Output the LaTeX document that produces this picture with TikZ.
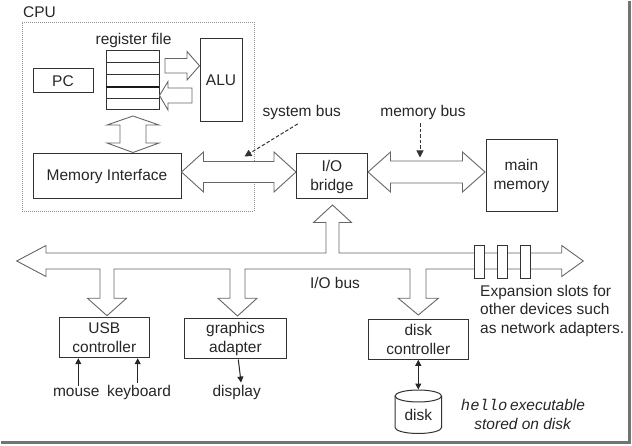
\documentclass[tikz,border=0pt]{standalone}
\usepackage{fontspec}
\setmainfont{Liberation Sans}
\newfontfamily\monofam{Liberation Mono}
\usetikzlibrary{arrows.meta,calc}
\newcommand\hfat[6]{% left tip x, right tip x, y, head length, shaft half, head half
  \draw[fat] (#1,#3) -- (#1+#4,#3-#6) -- (#1+#4,#3-#5) -- (#2-#4,#3-#5) -- (#2-#4,#3-#6) -- (#2,#3)
    -- (#2-#4,#3+#6) -- (#2-#4,#3+#5) -- (#1+#4,#3+#5) -- (#1+#4,#3+#6) -- cycle;}
\begin{document}
\begin{tikzpicture}[x=1pt,y=-1pt,
  every node/.style={font=\fontsize{15.5}{19}\selectfont, text=black!85, inner sep=0pt},
  box/.style={draw=black!80, line width=1pt},
  fat/.style={draw=black!60, line width=0.9pt, fill=white, line join=miter},
  thinarrow/.style={draw=black!85, line width=1pt, -{Triangle[length=6pt,width=6pt]}},
  thindouble/.style={draw=black!85, line width=1pt, {Triangle[length=6pt,width=6pt]}-{Triangle[length=6pt,width=6pt]}},
  dasharrow/.style={draw=black!80, line width=1pt, dash pattern=on 3.5pt off 2pt, -{Triangle[length=7pt,width=7pt]}},
  cpuframe/.style={draw=black!45, line width=0.8pt, dash pattern=on 1pt off 1pt}
]
\useasboundingbox (0,0) rectangle (632,446);

% frame shadow
\draw[black!55, line width=3pt] (629.8,1) -- (629.8,442.8) -- (1,442.8);

% CPU
\node[cpuframe, minimum width=232pt, minimum height=189pt] (cpu) at (138,116.5) {};
\node (cpulabel) at (39.5,12.5) {CPU};

\node[box, minimum width=60pt, minimum height=24pt] (pc) at (63,81) {PC};
\node[box, minimum width=53pt, minimum height=59.3pt] (regfile) at (132.5,80.35) {};
\foreach \yy in {62.7,75,98.3} \draw[box] (106,\yy) -- (159,\yy);
\draw[draw=black!90, line width=2pt] (106,86.7) -- (159,86.7);
\node (reglabel) at (133.5,40) {register file};
\node[box, minimum width=42pt, minimum height=83pt] (alu) at (221,80.5) {ALU};
\node[box, minimum width=148pt, minimum height=45pt] (memint) at (107,176.5) {Memory Interface};

% register file <-> ALU arrows
\draw[fat] (165,58.5) -- (187,58.5) -- (187,51.5) -- (199.5,65.8) -- (187,80) -- (187,73) -- (165,73) -- cycle;
\draw[fat] (192,88) -- (168,88) -- (168,81.5) -- (159.5,95.5) -- (168,110) -- (168,103) -- (192,103) -- cycle;
% register file <-> memory interface
\draw[fat] (133,116) -- (159,125) -- (146,125) -- (146,143) -- (159,143) -- (133,152.5)
  -- (107,143) -- (120,143) -- (120,125) -- (107,125) -- cycle;

% I/O bridge and main memory
\node[box, minimum width=71.7pt, minimum height=45pt, align=center] (bridge) at (331.85,176.5) {I/O\\bridge};
\node[box, minimum width=71pt, minimum height=71.7pt, align=center] (mainmem) at (521.5,175.85) {main\\memory};

% system bus & memory bus
\hfat{181.5}{296}{172}{22}{10.5}{20}
\hfat{368}{485}{172}{22.5}{11}{20}

\node (sysbus) at (301.7,112.5) {system bus};
\node (membus) at (423,112.5) {memory bus};
\coordinate (sbtip) at (244.5,156.5);
\coordinate (mbtip) at (420,157.5);
\draw[dasharrow] ($(sysbus.south)+(-4,4)$) -- (sbtip);
\draw[dasharrow] ($(membus.south)+(-3,3.5)$) -- (mbtip);

% I/O bus
\draw[fat] (16.7,261) -- (46,245.5) -- (46,253) -- (326,253) -- (326,222.5) -- (313.5,222.5)
  -- (332.5,205) -- (351.5,222.5) -- (339,222.5) -- (339,253) -- (561.7,253) -- (561.7,245.5)
  -- (583.3,261) -- (561.7,276.5) -- (561.7,269) -- (426,269) -- (426,298.3) -- (438.3,298.3)
  -- (418.3,315) -- (398.3,298.3) -- (410,298.3) -- (410,269) -- (245,269) -- (245,298.3)
  -- (257,298.3) -- (237.5,316) -- (218,298.3) -- (230,298.3) -- (230,269) -- (114,269)
  -- (114,298.3) -- (126.5,298.3) -- (107,315.7) -- (87.5,298.3) -- (100,298.3) -- (100,269)
  -- (46,269) -- (46,276.5) -- cycle;
\foreach \xx/\nm in {479.3/slotA,502/slotB,525.3/slotC}
  \node[box, fill=white, minimum width=10pt, minimum height=33pt] (\nm) at (\xx,261.7) {};
\node (iobus) at (335,283) {I/O bus};
\node[anchor=north west, align=left, font=\fontsize{15.5}{18.4}\selectfont] (explabel) at (480,284.8)
  {Expansion slots for\\other devices such\\as network adapters.};

% controllers
\node[box, minimum width=90pt, minimum height=40pt, align=center] (usb) at (104.3,337.7) {USB\\controller};
\node[box, minimum width=102.4pt, minimum height=40.3pt, align=center] (gfx) at (235.5,338.85) {graphics\\adapter};
\node[box, minimum width=100pt, minimum height=40pt, align=center] (dctrl) at (418.3,339.3) {disk\\controller};

\node[anchor=base] (mouse) at (76.3,396) {mouse};
\node[anchor=base] (keyboard) at (139,396) {keyboard};
\node[anchor=base] (display) at (236.7,396) {display};
\draw[thinarrow] ($(mouse.north)+(2,-1.5)$) -- ($(usb.south)+(-26,0)$);
\draw[thinarrow] ($(keyboard.north)+(-1.3,-1.5)$) -- ($(usb.south)+(33.4,0)$);
\draw[thinarrow] ($(gfx.south)+(2.8,0)$) -- ($(display.north)+(4.4,-2)$);

% disk
\draw[box, fill=white] (395,396) -- (395,427.5) arc[start angle=180, end angle=0, x radius=23.3, y radius=6] -- (441.6,396);
\draw[box, fill=white] (418.3,396) ellipse[x radius=23.3, y radius=6];
\coordinate (disktop) at (418.3,389.5);
\node (disk) at (418.3,415) {disk};
\draw[thindouble] (dctrl.south) -- (disktop);

\node[align=center, anchor=north] (hellolabel) at (523,399.3)
  {{\monofam\itshape hello}\,\textit{executable}\\\textit{stored on disk}};
\end{tikzpicture}
\end{document}
